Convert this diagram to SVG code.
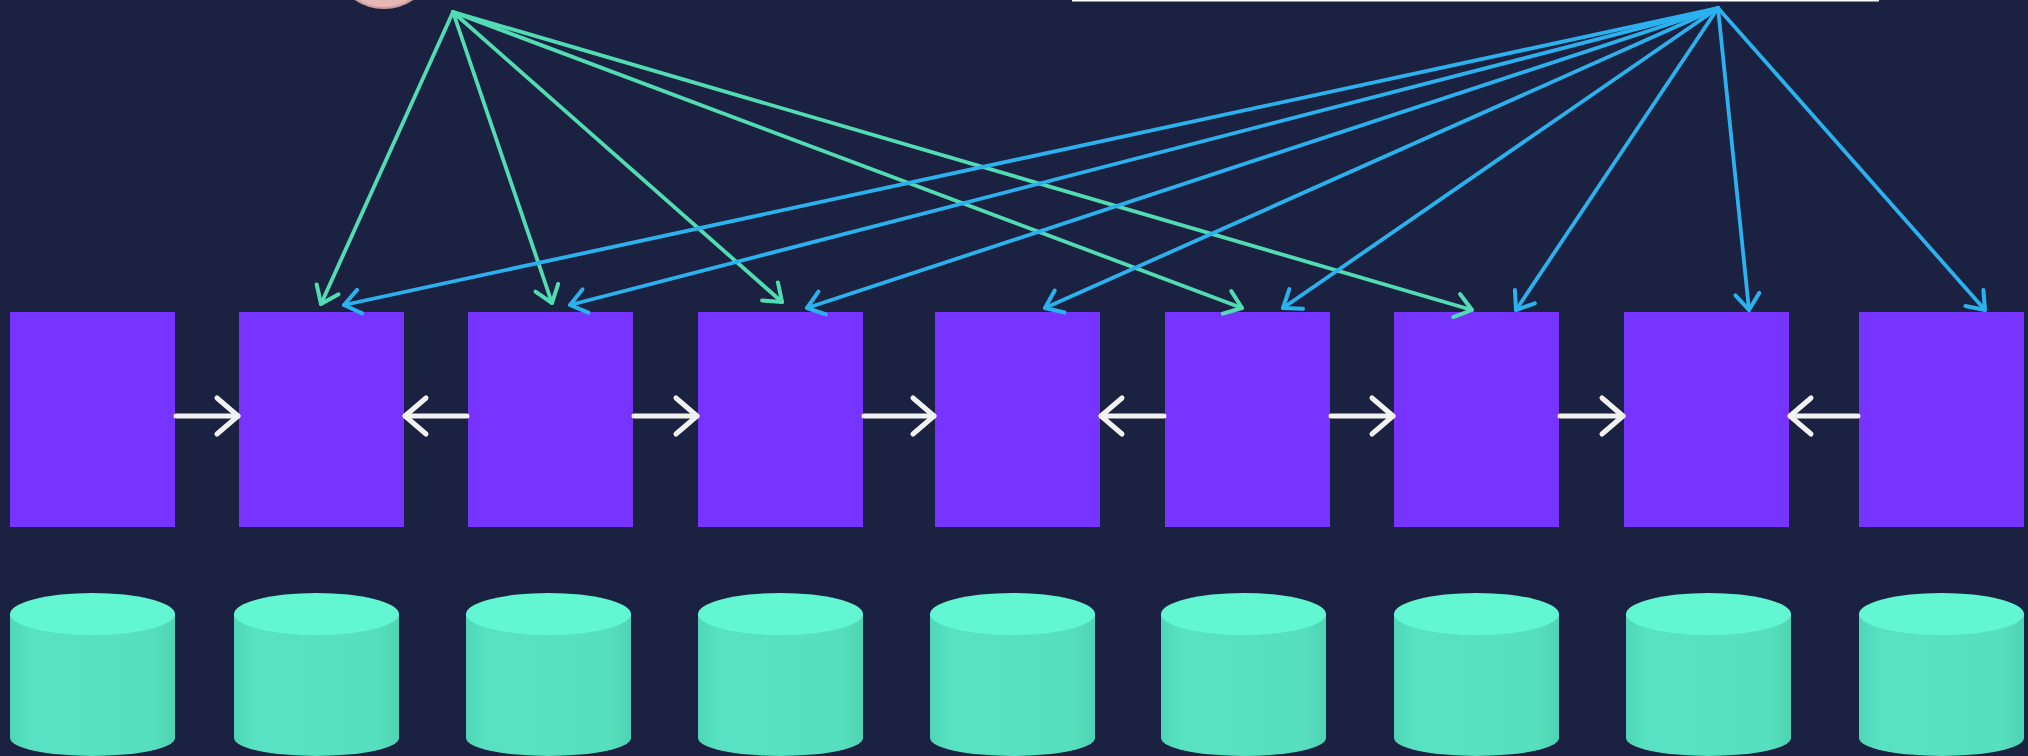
<svg xmlns="http://www.w3.org/2000/svg" width="2028" height="756" viewBox="0 0 2028 756">
  <defs>
    <style>
      .node { fill: #7733ff; }
      .green { stroke: #52dcb4; stroke-width: 3.8; fill: none; stroke-linecap: round; }
      .blue { stroke: #2bb2ee; stroke-width: 3.8; fill: none; stroke-linecap: round; }
      .link { stroke: #f2f2f2; stroke-width: 5; fill: none; stroke-linecap: round; }
    </style>
    <linearGradient id="cylSide" x1="0" y1="0" x2="1" y2="0">
      <stop offset="0" stop-color="#50d6b6"/>
      <stop offset="0.12" stop-color="#57e2c1"/>
      <stop offset="0.85" stop-color="#57e0bf"/>
      <stop offset="1" stop-color="#4fd4b4"/>
    </linearGradient>
    <marker id="headGreen" viewBox="-22 -16 32 32" refX="0" refY="0" markerWidth="32" markerHeight="32" markerUnits="userSpaceOnUse" orient="auto">
      <path d="M -16,-12 L 0,0 L -16,12" fill="none" stroke="#52dcb4" stroke-width="4" stroke-linecap="round" stroke-linejoin="round"/>
    </marker>
    <marker id="headBlue" viewBox="-22 -16 32 32" refX="0" refY="0" markerWidth="32" markerHeight="32" markerUnits="userSpaceOnUse" orient="auto">
      <path d="M -16,-12 L 0,0 L -16,12" fill="none" stroke="#2bb2ee" stroke-width="4" stroke-linecap="round" stroke-linejoin="round"/>
    </marker>
    <marker id="headWhite" viewBox="-25 -22 30 44" refX="0" refY="0" markerWidth="30" markerHeight="44" markerUnits="userSpaceOnUse" orient="auto">
      <path d="M -21,-18 L 0,0 L -21,18" fill="none" stroke="#f2f2f2" stroke-width="5" stroke-linecap="round" stroke-linejoin="round"/>
    </marker>
    <!-- storage cylinder, 165 wide, anchored at its top-left -->
    <g id="cylinder">
      <path d="M 0,614 L 0,738 A 82.5,18 0 0 0 165,738 L 165,614 Z" fill="url(#cylSide)"/>
      <ellipse cx="82.5" cy="614" rx="82.5" ry="21" fill="#62f6d3"/>
    </g>
  </defs>

  <rect width="2028" height="756" fill="#1b2241"/>

  <!-- partially visible items at the top edge -->
  <g id="client">
    <circle cx="384" cy="-43" r="51" fill="#e6b8b8" stroke="#c99a9c" stroke-width="2"/>
  </g>
  <g id="panel">
    <rect x="1072" y="-10" width="807" height="11.5" fill="#ffffff"/>
  </g>

  <!-- compute nodes -->
  <g id="node1"><rect class="node" x="10" y="312" width="165" height="215"/></g>
  <g id="node2"><rect class="node" x="239" y="312" width="165" height="215"/></g>
  <g id="node3"><rect class="node" x="468" y="312" width="165" height="215"/></g>
  <g id="node4"><rect class="node" x="698" y="312" width="165" height="215"/></g>
  <g id="node5"><rect class="node" x="935" y="312" width="165" height="215"/></g>
  <g id="node6"><rect class="node" x="1165" y="312" width="165" height="215"/></g>
  <g id="node7"><rect class="node" x="1394" y="312" width="165" height="215"/></g>
  <g id="node8"><rect class="node" x="1624" y="312" width="165" height="215"/></g>
  <g id="node9"><rect class="node" x="1859" y="312" width="165" height="215"/></g>

  <!-- storage -->
  <g id="store1"><use href="#cylinder" x="10"/></g>
  <g id="store2"><use href="#cylinder" x="234"/></g>
  <g id="store3"><use href="#cylinder" x="466"/></g>
  <g id="store4"><use href="#cylinder" x="698"/></g>
  <g id="store5"><use href="#cylinder" x="930"/></g>
  <g id="store6"><use href="#cylinder" x="1161"/></g>
  <g id="store7"><use href="#cylinder" x="1394"/></g>
  <g id="store8"><use href="#cylinder" x="1626"/></g>
  <g id="store9"><use href="#cylinder" x="1859"/></g>

  <g id="connectors">
    <!-- links between neighbouring nodes -->
    <line class="link" x1="176" y1="416" x2="238" y2="416" marker-end="url(#headWhite)"/>
    <line class="link" x1="467" y1="416" x2="405" y2="416" marker-end="url(#headWhite)"/>
    <line class="link" x1="634" y1="416" x2="697" y2="416" marker-end="url(#headWhite)"/>
    <line class="link" x1="864" y1="416" x2="934" y2="416" marker-end="url(#headWhite)"/>
    <line class="link" x1="1164" y1="416" x2="1101" y2="416" marker-end="url(#headWhite)"/>
    <line class="link" x1="1331" y1="416" x2="1393" y2="416" marker-end="url(#headWhite)"/>
    <line class="link" x1="1560" y1="416" x2="1623" y2="416" marker-end="url(#headWhite)"/>
    <line class="link" x1="1858" y1="416" x2="1790" y2="416" marker-end="url(#headWhite)"/>

    <!-- fan-out from the left source -->
    <line class="green" x1="453" y1="12" x2="321" y2="304" marker-end="url(#headGreen)"/>
    <line class="green" x1="453" y1="12" x2="552" y2="303" marker-end="url(#headGreen)"/>
    <line class="green" x1="453" y1="12" x2="782" y2="302" marker-end="url(#headGreen)"/>
    <line class="green" x1="453" y1="12" x2="1242" y2="308" marker-end="url(#headGreen)"/>
    <line class="green" x1="453" y1="12" x2="1472" y2="310" marker-end="url(#headGreen)"/>

    <!-- fan-out from the right source -->
    <line class="blue" x1="1718" y1="8" x2="344" y2="305" marker-end="url(#headBlue)"/>
    <line class="blue" x1="1718" y1="8" x2="570" y2="305" marker-end="url(#headBlue)"/>
    <line class="blue" x1="1718" y1="8" x2="807" y2="308" marker-end="url(#headBlue)"/>
    <line class="blue" x1="1718" y1="8" x2="1045" y2="308" marker-end="url(#headBlue)"/>
    <line class="blue" x1="1718" y1="8" x2="1283" y2="308" marker-end="url(#headBlue)"/>
    <line class="blue" x1="1718" y1="8" x2="1516" y2="310" marker-end="url(#headBlue)"/>
    <line class="blue" x1="1718" y1="8" x2="1749" y2="310" marker-end="url(#headBlue)"/>
    <line class="blue" x1="1718" y1="8" x2="1985" y2="310" marker-end="url(#headBlue)"/>
  </g>
</svg>
